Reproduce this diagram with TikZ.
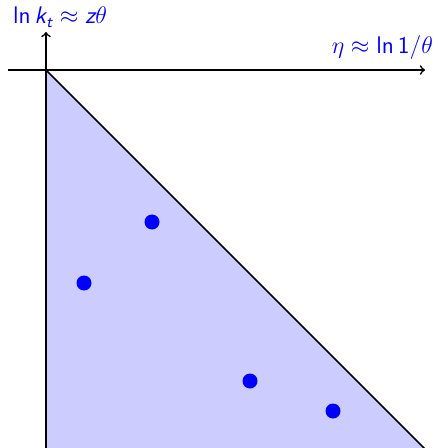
\documentclass[tikz,border=0pt]{standalone}
\usepackage{amsmath}
\newcommand{\sfit}[1]{\text{\sffamily\itshape #1}}
\newcommand{\sfrm}[1]{\text{\sffamily\upshape #1}}
\begin{document}
\begin{tikzpicture}[x=0.5pt,y=-0.5pt,
  axis/.style={line width=0.8pt,->},
  lbl/.style={text=blue,font=\large\sffamily},
  dot/.style={circle,fill=blue,inner sep=0pt,minimum size=7.5pt}]
\useasboundingbox (0,0) rectangle (440,448);
\begin{scope}
\clip (0,0) rectangle (440,448);
\fill[blue!20] (46,70) -- (46,460) -- (436,460) -- cycle;
\draw[line width=0.8pt] (46,70) -- (436,460);
\draw[line width=0.8pt] (46,70) -- (46,460);
\end{scope}
\coordinate (o) at (46,70);
\coordinate (ytop) at (46,32);
\coordinate (xl) at (8,70);
\coordinate (xr) at (425,70);
\draw[axis] (o) -- (ytop);
\draw[axis] (xl) -- (xr);
\node[lbl] (ylab) at (60,17) {$\sfrm{ln}\,\sfit{k}_{\sfit{t}} \approx \sfit{z}\theta$};
\node[lbl,anchor=east] (xlab) at (440,48) {$\eta \approx \sfrm{ln}\,\sfrm{1}/\theta$};
\node[dot] (d1) at (152,222) {};
\node[dot] (d2) at (84,283) {};
\node[dot] (d3) at (250,381) {};
\node[dot] (d4) at (333,411) {};
\end{tikzpicture}
\end{document}
